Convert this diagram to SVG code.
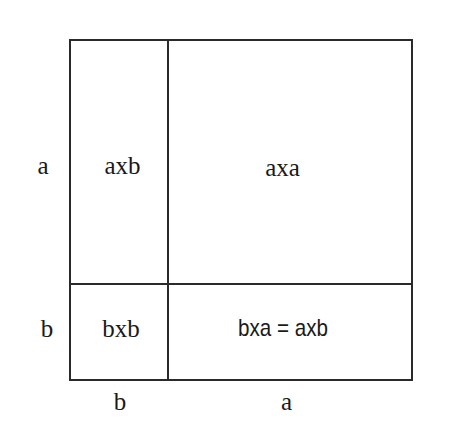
<svg xmlns="http://www.w3.org/2000/svg" width="474" height="428" viewBox="0 0 474 428">
<style>
.ln{fill:none;stroke:#2a2a2a;stroke-width:2}
text{font-family:"Liberation Serif","Times New Roman",serif;font-size:25px;fill:#1a1a1a;text-anchor:middle}
.sans{font-family:"Liberation Sans",Arial,sans-serif;font-size:24px}
</style>
<rect width="474" height="428" fill="#fff"/>
<g id="connectors">
<rect class="ln" x="70" y="40" width="342" height="340"/>
<line class="ln" x1="168" y1="40" x2="168" y2="380"/>
<line class="ln" x1="70" y1="284" x2="412" y2="284"/>
</g>
<g id="n-axb"><text x="122.5" y="174">axb</text></g>
<g id="n-axa"><text x="282.5" y="176">axa</text></g>
<g id="n-bxb"><text x="121" y="337">bxb</text></g>
<g id="n-bxa"><text class="sans" x="283" y="336" textLength="90" lengthAdjust="spacingAndGlyphs">bxa = axb</text></g>
<g id="lbl-a-left"><text x="43" y="174">a</text></g>
<g id="lbl-b-left"><text x="47" y="337">b</text></g>
<g id="lbl-b-bottom"><text x="120" y="410">b</text></g>
<g id="lbl-a-bottom"><text x="286.5" y="410">a</text></g>
</svg>
